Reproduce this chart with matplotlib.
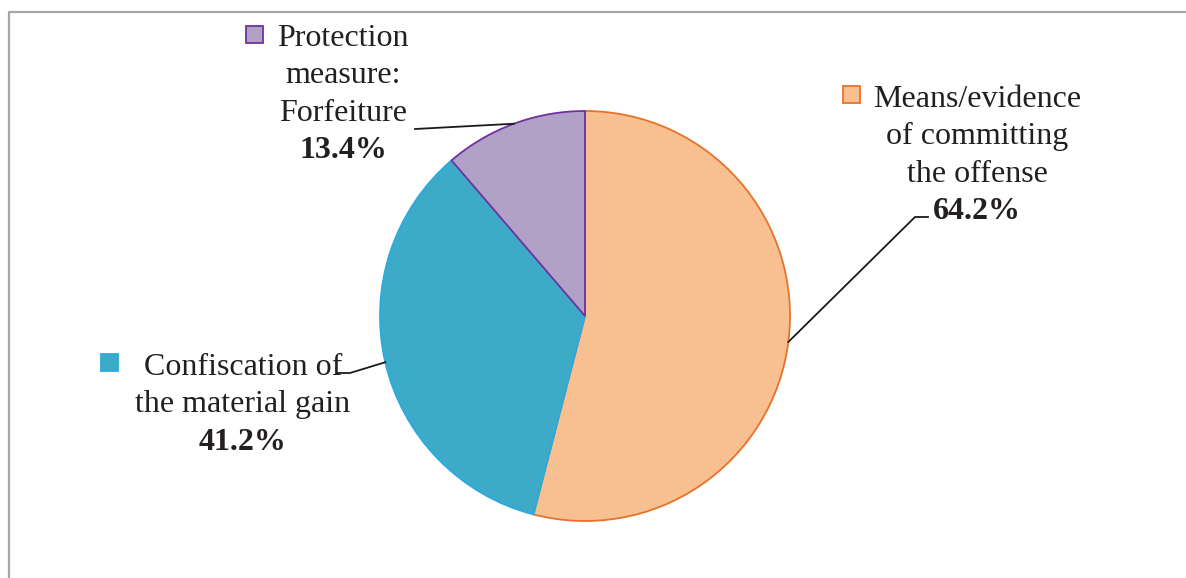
import numpy as np
import matplotlib
matplotlib.use("Agg")
import matplotlib.pyplot as plt
from matplotlib.patches import Rectangle

# shares of cases by measure (multiple answers, so they add up past 100)
categories = ["Means/evidence\nof committing\nthe offense",
              "Confiscation of\nthe material gain",
              "Protection\nmeasure:\nForfeiture"]
values = [64.2, 41.2, 13.4]
value_labels = ["64.2%", "41.2%", "13.4%"]

fills = ["#F8C090", "#3DAAC8", "#B2A1C7"]
edges = ["#E8722A", "#2BAAE0", "#7030A0"]

W, H = 1186, 578
plt.rcParams["font.family"] = ["Liberation Serif", "DejaVu Serif"]

fig = plt.figure(figsize=(W / 100, H / 100), dpi=100)
ax = fig.add_axes([0, 0, 1, 1])
ax.set_xlim(0, W)
ax.set_ylim(0, H)
ax.set_aspect("equal")
ax.axis("off")


def Y(y):
    # page rows run downward, axes run upward
    return H - y


cx, cy, r = 585, Y(316), 205
wedges, _ = ax.pie(values, startangle=90, counterclock=False, center=(cx, cy),
                   radius=r, colors=fills, frame=True,
                   wedgeprops=dict(linewidth=1.3))
for w, ec in zip(wedges, edges):
    w.set_edgecolor(ec)
wedges[2].set_zorder(3)
ax.set_xlim(0, W)
ax.set_ylim(0, H)
ax.axis("off")

# frame around the chart area (left and top only show)
ax.plot([9, 9, W], [0, Y(12), Y(12)], color="#A6A6A6", lw=1.6,
        solid_capstyle="butt", zorder=1)

# label blocks: text centre x, first baseline, marker box, leader path
label_x = [977, 243, 343]
label_base = [107, 375, 46]
markers = [(843, 86), (101, 354), (246, 26)]
leader_bends = [[(915, 217), (928, 217)],
                [(350, 373), (338, 373)],
                [(415, 129)]]
line_gap = 37.3

for i, w in enumerate(wedges):
    mid = np.deg2rad((w.theta1 + w.theta2) / 2)
    px, py = cx + r * np.cos(mid), cy + r * np.sin(mid)
    xs = [px] + [b[0] for b in leader_bends[i]]
    ys = [py] + [Y(b[1]) for b in leader_bends[i]]
    ax.plot(xs, ys, color="#1a1a1a", lw=1.3, zorder=4)

    lines = categories[i].split("\n")
    for k, ln in enumerate(lines):
        ax.text(label_x[i], Y(label_base[i] + k * line_gap), ln, ha="center",
                va="baseline", fontsize=23, color="#231F20")
    ax.text(label_x[i], Y(label_base[i] + len(lines) * line_gap),
            value_labels[i], ha="center", va="baseline", fontsize=23,
            fontweight="bold", color="#231F20")

    mx, my = markers[i]
    ax.add_patch(Rectangle((mx, Y(my + 17)), 17, 17, facecolor=fills[i],
                           edgecolor=edges[i], lw=1.3, zorder=4))

fig.savefig("out.png", dpi=100)
